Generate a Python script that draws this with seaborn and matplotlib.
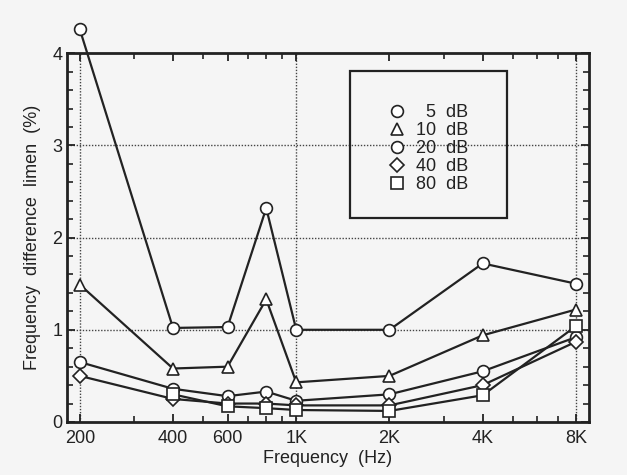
import numpy as np
import pandas as pd
import seaborn as sns
import matplotlib.pyplot as plt
from matplotlib.lines import Line2D
from matplotlib.patches import Rectangle

# frequencies (Hz) and frequency difference limen (%) per level
freqs = [200, 400, 600, 800, 1000, 2000, 4000, 8000]
dl_5db = [4.26, 1.02, 1.03, 2.32, 1.00, 1.00, 1.72, 1.50]
dl_10db = [1.49, 0.58, 0.60, 1.33, 0.43, 0.50, 0.94, 1.22]
dl_20db = [0.65, 0.36, 0.28, 0.33, 0.23, 0.30, 0.55, 0.92]
dl_40db = [0.50, 0.25, 0.20, 0.20, 0.18, 0.18, 0.40, 0.87]
dl_80db = [np.nan, 0.30, 0.17, 0.15, 0.13, 0.12, 0.29, 1.04]

levels = ['5 dB', '10 dB', '20 dB', '40 dB', '80 dB']
legend_labels = ['  5  dB', '10  dB', '20  dB', '40  dB', '80  dB']
markers = ['o', '^', 'o', 'D', 's']
msizes = [8.5, 8.5, 8.5, 7.0, 8.0]
tick_vals = [200, 400, 600, 1000, 2000, 4000, 8000]
tick_labels = ['200', '400', '600', '1K', '2K', '4K', '8K']


def main():
	sns.set_style('ticks')
	plt.rcParams['font.family'] = ['Liberation Sans Narrow', 'Liberation Sans', 'DejaVu Sans']
	bg = '#f5f5f5'
	ink = '#222222'

	rows = []
	for lvl, vals in zip(levels, [dl_5db, dl_10db, dl_20db, dl_40db, dl_80db]):
		for f, v in zip(freqs, vals):
			rows.append({'freq': f, 'dl': v, 'level': lvl})
	df = pd.DataFrame(rows).dropna()

	fig = plt.figure(figsize=(6.27, 4.75), dpi=100, facecolor=bg)
	ax = fig.add_axes([0.107, 0.1116, 0.832, 0.7764])
	ax.set_facecolor(bg)

	# dotted grid lines
	for y in [1, 2, 3]:
		ax.axhline(y, color='#444444', lw=1, ls=(0, (1, 1.2)), zorder=0)
	for x in [200, 1000, 8000]:
		ax.axvline(x, color='#444444', lw=1, ls=(0, (1, 1.2)), zorder=0)

	sns.lineplot(data=df, x='freq', y='dl', hue='level', style='level',
		markers=dict(zip(levels, markers)), dashes=False,
		palette=[ink] * 5, hue_order=levels, style_order=levels,
		markerfacecolor='white', markeredgecolor=ink,
		markeredgewidth=1.2, linewidth=1.6, legend=False, ax=ax)
	for ln, ms in zip(ax.lines[-5:], msizes):
		ln.set_clip_on(False)
		ln.set_zorder(3)
		ln.set_markersize(ms)

	ax.set_xscale('log')
	ax.set_xlim(182, 8800)
	ax.set_ylim(0, 4)
	ax.set_xticks(tick_vals, tick_labels)
	ax.set_yticks([0, 1, 2, 3, 4])
	ax.set_yticks(np.arange(0, 4.01, 0.2), minor=True)
	ax.tick_params(which='both', direction='in', top=True, right=True, color=ink)
	ax.tick_params(which='major', length=6, width=1.3, labelsize=13, labelcolor=ink)
	ax.tick_params(which='minor', length=4, width=1.2)
	ax.tick_params(axis='x', which='major', pad=6)
	for s in ax.spines.values():
		s.set_linewidth(2)
		s.set_color(ink)

	ax.set_xlabel('Frequency  (Hz)', fontsize=13, color=ink, labelpad=2)
	ax.set_ylabel('Frequency  difference  limen  (%)', fontsize=13, color=ink, labelpad=8)

	# legend box
	ax.add_patch(Rectangle((0.542, 0.553), 0.301, 0.398, transform=ax.transAxes,
		fill=False, edgecolor=ink, lw=1.6, zorder=4))
	handles = [Line2D([], [], ls='none', marker=m, markersize=ms, markerfacecolor='white',
		markeredgecolor=ink, markeredgewidth=1.2) for m, ms in zip(markers, msizes)]
	ax.legend(handles, legend_labels, loc='center', bbox_to_anchor=(0.692, 0.741),
		frameon=False, fontsize=13, labelspacing=0.05, handlelength=1.0,
		handletextpad=0.6, labelcolor=ink)

	fig.savefig('out.png', dpi=100, facecolor=bg)


if __name__ == '__main__':
	main()
